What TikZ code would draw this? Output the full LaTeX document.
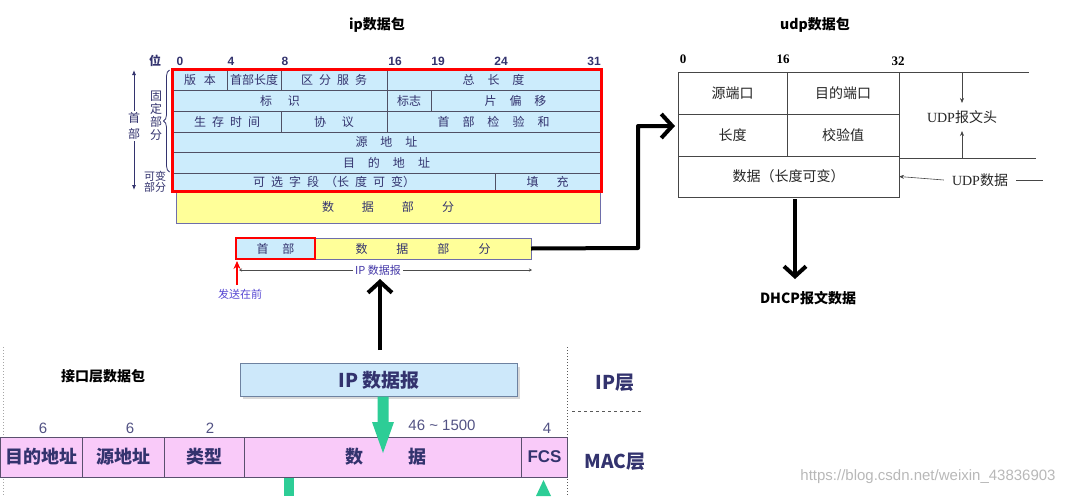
\documentclass[tikz,border=0pt]{standalone}
\usepackage{fontspec}
\setmainfont{Noto Sans CJK SC}
\newfontfamily\lat{Liberation Sans}
\newfontfamily\ser{Liberation Serif}
\usetikzlibrary{arrows.meta,decorations.pathreplacing,calc}
\definecolor{navy}{RGB}{51,51,110}
\definecolor{tline}{RGB}{80,80,100}
\definecolor{tblue}{RGB}{204,236,252}
\definecolor{tyellow}{RGB}{255,255,153}
\definecolor{yline}{RGB}{110,110,170}
\definecolor{purp}{RGB}{85,70,210}
\definecolor{tpink}{RGB}{249,202,249}
\definecolor{pline}{RGB}{90,80,110}
\definecolor{tgreen}{RGB}{45,205,150}
\definecolor{ipfill}{RGB}{205,232,250}
\definecolor{ipline}{RGB}{110,130,160}
\definecolor{ugrey}{RGB}{70,70,70}
\newcommand\hs[1]{\hspace{#1pt}}
\begin{document}
\begin{tikzpicture}[x=1pt,y=-1pt,
  tcell/.style={draw=tline, fill=tblue, inner sep=0pt, outer sep=0pt, anchor=north west,
    font=\fontsize{12}{14}\selectfont, text=navy, line width=0.7pt},
  ycell/.style={tcell, fill=tyellow, draw=yline},
  ucell/.style={draw=ugrey, fill=white, inner sep=0pt, outer sep=0pt, anchor=north west,
    font=\fontsize{14}{16}\selectfont, text=black!85, line width=0.8pt},
  pcell/.style={draw=pline, fill=tpink, inner sep=0pt, outer sep=0pt, anchor=north west,
    font=\fontsize{18}{20}\selectfont\bfseries, text=navy, line width=0.8pt},
  bitlbl/.style={font=\lat\bfseries\fontsize{12}{14}\selectfont, text=navy, inner sep=0pt},
  ubit/.style={font=\ser\bfseries\fontsize{13}{15}\selectfont, text=black, inner sep=0pt},
  numlbl/.style={font=\lat\fontsize{15}{17}\selectfont, text=navy!85, inner sep=0pt},
  title/.style={font=\bfseries\fontsize{14}{16}\selectfont, text=black, inner sep=0pt},
  bigarrow/.style={line width=4pt, -{Straight Barb[length=11pt,width=24pt]}},
  thinarrow/.style={line width=0.6pt, -{Stealth[length=5pt,width=4pt]}},
  layer/.style={font=\bfseries\fontsize{19}{21}\selectfont, text=navy, inner sep=0pt}
]
\useasboundingbox (0,0) rectangle (1074,496);

% ---------- titles ----------
\node[title] (ipt) at (377,25) {ip数据包};
\node[title] (udpt) at (815,25) {udp数据包};

% ---------- IP header table ----------
\node[font=\bfseries\fontsize{12}{14}\selectfont, text=navy, inner sep=0pt] (wei) at (155,61) {位};
\node[bitlbl] (b0) at (180,61) {0};
\node[bitlbl] (b4) at (231,61) {4};
\node[bitlbl] (b8) at (285,61) {8};
\node[bitlbl] (b16) at (395,61) {16};
\node[bitlbl] (b19) at (438,61) {19};
\node[bitlbl] (b24) at (501,61) {24};
\node[bitlbl] (b31) at (594,61) {31};

\node[tcell, minimum width=54, minimum height=21.5] (c11) at (173,69) {版\hs{8}本};
\node[tcell, minimum width=54, minimum height=21.5] (c12) at (227,69) {首部长度};
\node[tcell, minimum width=106, minimum height=21.5] (c13) at (281,69) {区\hs{6}分\hs{6}服\hs{6}务};
\node[tcell, minimum width=213, minimum height=21.5] (c14) at (387,69) {总\hs{13}长\hs{13}度};

\node[tcell, minimum width=214, minimum height=21] (c21) at (173,90.5) {标\hs{16}识};
\node[tcell, minimum width=44, minimum height=21] (c22) at (387,90.5) {标志};
\node[tcell, minimum width=169, minimum height=21] (c23) at (431,90.5) {片\hs{13}偏\hs{13}移};

\node[tcell, minimum width=108, minimum height=20.5] (c31) at (173,111.5) {生\hs{6}存\hs{6}时\hs{6}间};
\node[tcell, minimum width=106, minimum height=20.5] (c32) at (281,111.5) {协\hs{16}议};
\node[tcell, minimum width=213, minimum height=20.5] (c33) at (387,111.5) {首\hs{13}部\hs{13}检\hs{13}验\hs{13}和};

\node[tcell, minimum width=427, minimum height=20.5] (c41) at (173,132) {源\hs{13}地\hs{13}址};
\node[tcell, minimum width=427, minimum height=20.5] (c51) at (173,152.5) {目\hs{13}的\hs{13}地\hs{13}址};

\node[tcell, minimum width=322, minimum height=18] (c61) at (173,173) {可\hs{6}选\hs{6}字\hs{6}段\hs{6}（长\hs{6}度\hs{6}可\hs{6}变）};
\node[tcell, minimum width=105, minimum height=18] (c62) at (495,173) {填\hs{18}充};

\node[ycell, minimum width=424, minimum height=32] (dat1) at (176,191) {数\hs{28}据\hs{28}部\hs{28}分};

\draw[red, line width=3pt] (172.5,69) rectangle (601.5,191);

% left annotations
\draw[navy, line width=0.8pt, {Latex[length=5pt,width=4pt]}-{Latex[length=5pt,width=4pt]}] (134,70) -- (134,190);
\node[fill=white, inner sep=1pt, align=center, font=\fontsize{12}{16}\selectfont, text=navy] (shoubu) at (134,126) {首\\部};
\node[align=center, inner sep=0pt, font=\fontsize{12}{13}\selectfont, text=navy] (guding) at (156,116) {固\\定\\部\\分};
\draw[navy, line width=0.8pt, decorate, decoration={brace, amplitude=6pt}] (169.5,172) -- (169.5,70);
\node[align=center, inner sep=0pt, font=\fontsize{11}{11.5}\selectfont, text=navy] (kebian) at (155,182) {可变\\部分};

% ---------- IP datagram strip ----------
\node[tcell, minimum width=79, minimum height=21] (hdr) at (236,238) {首\hs{14}部};
\node[ycell, minimum width=216, minimum height=21] (dat2) at (315,238) {数\hs{29}据\hs{29}部\hs{29}分};
\draw[red, line width=1.8pt] (hdr.north west) rectangle (hdr.south east);
\coordinate (dl) at (239,270);
\coordinate (dr) at (532,270);
\draw[black!70, line width=0.5pt, {Stealth[length=3pt,width=3pt]}-{Stealth[length=3pt,width=3pt]}] (dl) -- (dr);
\node[fill=white, inner sep=2pt, font=\fontsize{11}{13}\selectfont, text=purp!80!black] (ipdg) at (378,270) {IP 数据报};
\node[inner sep=0pt, font=\fontsize{11}{13}\selectfont, text=purp] (fq) at (240,294) {发送在前};
\coordinate (fqtop) at (237,285);
\coordinate (fqtip) at (237,261);
\draw[red, line width=2pt, -{Stealth[length=8pt,width=7pt]}] (fqtop) -- (fqtip);

% ---------- UDP table ----------
\node[ubit] (u0) at (683,59) {0};
\node[ubit] (u16) at (783,59) {16};
\node[ubit] (u32) at (898,61) {32};
\node[ucell, minimum width=109, minimum height=42] (u1) at (678,72) {源端口};
\node[ucell, minimum width=112, minimum height=42] (u2) at (787,72) {目的端口};
\node[ucell, minimum width=109, minimum height=42] (u3) at (678,114) {长度};
\node[ucell, minimum width=112, minimum height=42] (u4) at (787,114) {校验值};
\node[ucell, minimum width=221, minimum height=41] (u5) at (678,156) {数据（长度可变）};

\coordinate (ut1) at (1029,72);
\coordinate (ub1) at (899,158);
\coordinate (ub2) at (1036,158);
\draw[ugrey, line width=0.8pt] (u2.north east) -- (ut1);
\draw[ugrey, line width=0.8pt] (ub1) -- (ub2);
\node[inner sep=0pt, font=\fontsize{14}{16}\selectfont, text=black!85] (uhead) at (962,117) {{\ser UDP}报文头};
\coordinate (ua1) at (962,72);
\coordinate (ua2) at (962,158);
\draw[ugrey, thinarrow] (ua1) -- (962,103);
\draw[ugrey, thinarrow] (ua2) -- (962,131);
\node[inner sep=0pt, font=\fontsize{14}{16}\selectfont, text=black!85] (udata) at (980,180) {{\ser UDP}数据};
\draw[ugrey, thinarrow] ($(udata.west)+(-8,0)$) -- (u5.east);
\draw[ugrey, line width=0.8pt] ($(udata.east)+(8,0)$) -- (1043,180);

% DHCP
\node[title] (dhcp) at (808,298) {DHCP报文数据};
\coordinate (dtop) at (795,199);
\draw[bigarrow, -{Straight Barb[length=10pt,width=22pt]}] (dtop) -- ($(dhcp.north -| dtop)+(0,-12)$);

% elbow arrow ip -> udp
\coordinate (etip) at (675,126);
\draw[bigarrow, line join=round] (dat2.east) -- (638,248) -- (638,126) -- (etip);

% ---------- bottom: interface layer ----------
\node[title] (jk) at (103,376) {接口层数据包};
\draw[gray!70, dotted, line width=1pt] (3,347) -- (3,496);
\draw[gray!70!black, dotted, line width=1pt] (567,347) -- (567,496);
\draw[gray!70!black, dashed, line width=1pt] (572,411) -- (643,411);

\fill[black!15] (243,367) rectangle (520,399);
\node[draw=ipline, fill=ipfill, line width=1pt, minimum width=277, minimum height=33, inner sep=0pt, anchor=north west,
  font=\bfseries\fontsize{19}{21}\selectfont, text=navy] (ipbox) at (240,363) {IP 数据报};

% up arrow from bottom IP box to the datagram strip
\coordinate (upstart) at (380,350);
\coordinate (uptip) at (380,279);
\draw[bigarrow] (upstart) -- (uptip);

\node[numlbl] (n1) at (43,428) {6};
\node[numlbl] (n2) at (130,428) {6};
\node[numlbl] (n3) at (210,428) {2};
\node[numlbl] (n4) at (547,428) {4};
\node[numlbl] (n5) at (442,425) {46 \textasciitilde{} 1500};

\node[pcell, minimum width=82, minimum height=40] (m1) at (0.5,437) {目的地址};
\node[pcell, minimum width=82, minimum height=40] (m2) at (82.5,437) {源地址};
\node[pcell, minimum width=80, minimum height=40] (m3) at (164.5,437) {类型};
\node[pcell, minimum width=277, minimum height=40] (m4) at (244.5,437) {\hs{6}数\hs{45}据};
\node[pcell, minimum width=46, minimum height=40, font=\lat\bfseries\fontsize{17}{19}\selectfont] (m5) at (521.5,437) {FCS};

\fill[tgreen] (377.5,396.5) -- (388.5,396.5) -- (388.5,422) -- (394,422) -- (383,453) -- (372,422) -- (377.5,422) -- cycle;
\fill[tgreen] (284,477.5) rectangle (294,496);
\fill[tgreen] (543.5,480) -- (551,496) -- (536,496) -- cycle;

\node[layer] (ipl) at (615,383) {IP层};
\node[layer] (macl) at (615,462) {MAC层};

\node[inner sep=0pt, font=\lat\fontsize{15}{17}\selectfont, text=black!28] (wm) at (928,477) {https://blog.csdn.net/weixin\_43836903};
\end{tikzpicture}
\end{document}
